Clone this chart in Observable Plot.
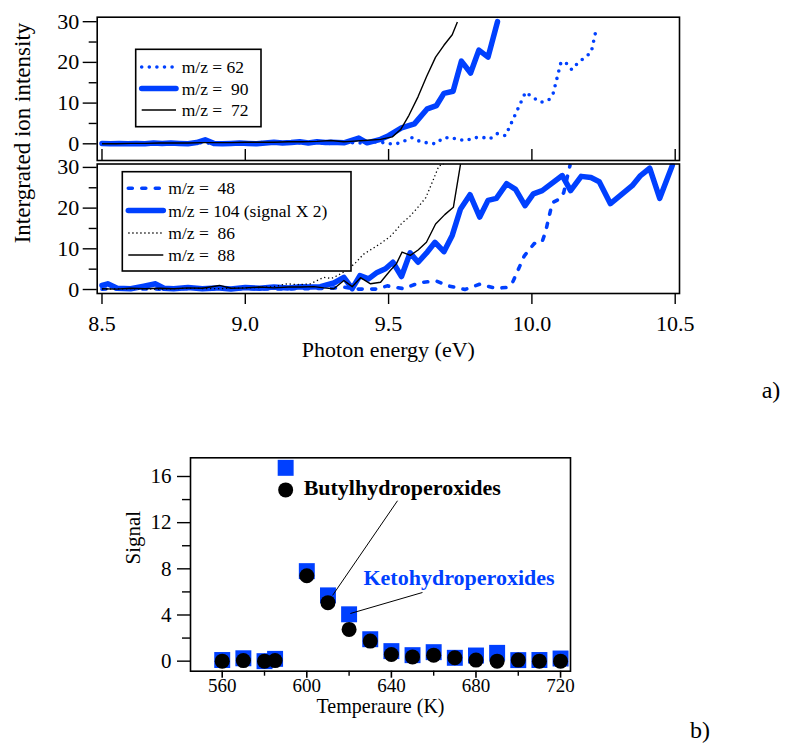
<!DOCTYPE html>
<html><head><meta charset="utf-8">
<script src="https://cdn.jsdelivr.net/npm/d3@7"></script>
<script src="https://cdn.jsdelivr.net/npm/@observablehq/plot@0.6"></script>
<style>
body{margin:0;background:#fff;}
#root{position:relative;width:789px;height:749px;font-family:"Liberation Serif","Times New Roman",serif;color:#000;overflow:hidden;}
.lab{position:absolute;white-space:nowrap;line-height:1;}
</style></head><body><div id="root"></div>
<script>
// ---------- DATA: panel a), upper frame ----------
const top62E = [8.50,8.55,8.60,8.65,8.70,8.75,8.80,8.85,8.90,8.95,9.00,9.05,9.10,9.15,9.20,9.25,9.30,9.35,9.40,9.44,9.472,9.501,9.528,9.553,9.582,9.609,9.637,9.664,9.690,9.716,9.745,9.772,9.797,9.827,9.853,9.879,9.908,9.978,10.005,10.032,10.059,10.074,10.101,10.115,10.139,10.162,10.187,10.207,10.225];
const top62V = [0.1,0.0,0.2,0.1,0.0,0.2,0.1,0.3,0.0,0.2,0.1,0.3,0.2,0.1,0.3,0.2,0.1,0.3,0.2,0.5,0.4,0.0,0.0,0.65,1.5,0.6,0.2,0.0,1.4,1.6,1.0,0.8,1.5,1.6,1.2,2.5,2.0,12.7,11.3,10.2,10.8,12.3,19.9,20.2,18.2,20.0,21.3,22.5,28.3];
const top90E = [8.50,8.53,8.56,8.59,8.62,8.65,8.68,8.71,8.74,8.77,8.80,8.83,8.86,8.89,8.92,8.95,8.98,9.01,9.04,9.07,9.10,9.13,9.16,9.19,9.22,9.25,9.28,9.30,9.344,9.396,9.425,9.472,9.50,9.545,9.59,9.635,9.667,9.693,9.725,9.754,9.786,9.815,9.847,9.880];
const top90V = [0.1,0.0,0.1,0.0,0.1,0.0,0.2,0.1,0.2,0.1,0.0,0.3,1.0,0.1,0.0,0.1,0.2,0.1,0.0,0.2,0.4,0.2,0.3,0.5,0.2,0.5,0.3,0.4,0.25,1.4,0.25,1.1,2.0,3.9,4.9,8.6,9.4,12.4,12.9,20.3,17.4,23.0,21.3,30.0];
const top72E = [8.50,8.55,8.60,8.65,8.70,8.75,8.80,8.85,8.90,8.95,9.00,9.05,9.10,9.15,9.20,9.25,9.298,9.344,9.367,9.414,9.472,9.513,9.542,9.571,9.603,9.633,9.664,9.693,9.722,9.740];
const top72V = [0.0,0.0,0.1,0.1,0.2,0.2,0.2,0.3,0.3,0.3,0.4,0.4,0.4,0.5,0.5,0.6,0.8,0.5,0.6,0.8,1.1,1.7,3.5,7.0,11.6,16.6,21.3,24.2,26.8,29.9];

// ---------- DATA: panel a), lower frame ----------
const bot48E = [8.50,8.60,8.70,8.80,8.90,9.00,9.10,9.20,9.30,9.344,9.38,9.46,9.495,9.553,9.608,9.666,9.708,9.766,9.818,9.873,9.912,9.931,9.95,9.973,10.008,10.035,10.047,10.059,10.071,10.10,10.111,10.133];
const bot48V = [0.1,0.2,0.1,0.2,0.1,0.2,0.1,0.2,0.3,0.6,0.1,0.1,0.9,0.2,1.7,2.1,0.9,0.0,1.3,0.3,0.5,1.5,4.5,8.2,11.3,11.6,14.0,17.6,21.3,22.4,23.8,30.5];
const bot104E = [8.50,8.52,8.553,8.60,8.646,8.687,8.716,8.75,8.80,8.85,8.90,8.95,9.00,9.05,9.10,9.15,9.194,9.227,9.262,9.309,9.344,9.373,9.40,9.43,9.46,9.489,9.515,9.545,9.575,9.603,9.635,9.662,9.693,9.722,9.751,9.784,9.818,9.847,9.876,9.912,9.943,9.976,10.005,10.036,10.106,10.135,10.172,10.206,10.235,10.274,10.35,10.379,10.411,10.446,10.49];
const bot104V = [1.0,1.4,0.3,0.2,0.8,1.4,0.3,0.2,0.5,0.2,0.4,0.1,0.5,0.3,0.6,0.4,0.7,0.6,0.7,1.6,3.0,0.2,3.4,2.6,4.2,5.1,6.7,3.2,9.0,6.7,9.2,11.6,9.3,13.3,19.8,23.3,17.8,21.9,22.4,26.0,24.6,20.6,23.5,24.3,28.0,24.3,27.8,27.5,26.5,21.1,25.5,28.0,29.8,22.4,30.5];
const bot86E = [8.50,8.60,8.70,8.80,8.90,9.00,9.05,9.10,9.146,9.181,9.227,9.274,9.30,9.321,9.356,9.385,9.413,9.443,9.472,9.505,9.525,9.545,9.573,9.60,9.63,9.655,9.675,9.693];
const bot86V = [0.1,0.2,0.1,0.3,0.2,0.4,0.5,0.7,1.4,1.2,1.4,3.0,2.7,3.4,4.8,6.6,8.7,10.0,11.3,13.0,14.5,16.2,17.9,20.0,22.6,26.8,30.3,30.9];
const bot88E = [8.50,8.55,8.60,8.65,8.70,8.75,8.80,8.85,8.91,8.95,9.00,9.05,9.10,9.15,9.194,9.239,9.274,9.309,9.344,9.373,9.402,9.437,9.472,9.505,9.527,9.547,9.576,9.603,9.632,9.664,9.696,9.726,9.751];
const bot88V = [0.2,0.1,0.3,0.2,0.3,0.2,0.4,0.3,1.0,0.3,0.4,0.6,0.4,0.6,0.6,0.7,0.4,0.2,2.2,0.7,2.9,1.4,1.8,4.6,6.3,9.2,8.4,9.7,11.6,16.1,18.4,20.2,30.8];

const energyTicks = [8.5, 9.0, 9.5, 10.0, 10.5];
const intensityTicks = [0, 10, 20, 30];
const intensityMinor = [5, 15, 25];
const topLegend = ["m/z = 62", "m/z =  90", "m/z =  72"];
const botLegend = ["m/z =  48", "m/z = 104 (signal X 2)", "m/z =  86", "m/z =  88"];

// ---------- DATA: panel b) ----------
const temps = [560,570,580,585,590,600,610,620,630,640,650,660,670,680,690,700,710,720];
const keto  = [0.1,0.25,0.0,0.2,16.75,7.8,5.7,4.06,1.9,0.87,0.52,0.78,0.29,0.49,0.72,0.09,0.1,0.23];
const butyl = [0.0,0.05,0.0,0.05,14.84,7.4,5.07,2.75,1.74,0.58,0.37,0.52,0.29,0.09,0.0,0.09,0.0,0.0];
const tempTicks = [560, 600, 640, 680, 720];
const tempMinor = [580, 620, 660, 700];
const signalTicks = [0, 4, 8, 12, 16];
const signalMinor = [2, 6, 10, 14];
const annLabels = ["Butylhydroperoxides", "Ketohydroperoxides"];
const annTextT = [598.5, 626.8];
const annTextS = [15.05, 7.17];
const annFromT = [642.9, 654.7];
const annFromS = [13.9, 5.95];
const annToT = [612.2, 620.6];
const annToS = [5.7, 4.13];

// ---------- helpers ----------
const BLUE = "#0040ff";
const FONT = "'Liberation Serif','Times New Roman',serif";
const zipS = (E, V) => E.slice(0, Math.min(E.length, V.length)).map((e, i) => ({e, v: V[i]}));
const root = document.getElementById("root");
function place(el, top) { el.style.position = "absolute"; el.style.left = "0px"; el.style.top = top + "px"; root.appendChild(el); }
function label(text, x, y, size, rot) {
  const d = document.createElement("div");
  d.className = "lab"; d.textContent = text;
  d.style.left = x + "px"; d.style.top = y + "px"; d.style.fontSize = size + "px";
  d.style.transform = "translate(-50%,-50%)" + (rot ? " rotate(" + rot + "deg)" : "");
  root.appendChild(d);
}
function legend(svg, box, rows, styles, sx1, sx2, tx) {
  const g = d3.select(svg).append("g").attr("text-anchor", "start");
  g.append("rect").attr("x", box[0]).attr("y", box[1]).attr("width", box[2]).attr("height", box[3])
    .attr("fill", "white").attr("stroke", "black").attr("stroke-width", 1.6);
  rows.forEach((r, i) => {
    const s = styles[i];
    g.append("line").attr("x1", sx1).attr("x2", sx2).attr("y1", r.y).attr("y2", r.y)
      .attr("stroke", s.stroke).attr("stroke-width", s.w).attr("stroke-dasharray", s.dash || null)
      .attr("stroke-linecap", s.cap || "butt");
    g.append("text").attr("x", tx).attr("y", r.y).attr("dy", "0.35em").attr("text-anchor", "start")
      .attr("font-family", FONT).attr("font-size", 17.5).attr("fill", "black")
      .style("white-space", "pre").text(r.text);
  });
}
const s62 = {stroke: BLUE, w: 3.6, dash: "0,7.6", cap: "round"};
const s90 = {stroke: BLUE, w: 5.5, cap: "round"};
const s72 = {stroke: "black", w: 1.4};
const s48 = {stroke: BLUE, w: 3.6, dash: "4,9.5", cap: "round"};
const s86 = {stroke: "black", w: 1.3, dash: "1.3,2.7"};
const lineMark = (data, s) => Plot.line(data, {x: "e", y: "v", stroke: s.stroke, strokeWidth: s.w,
  strokeDasharray: s.dash, strokeLinecap: s.cap || "butt", strokeLinejoin: "round", clip: true});
const baseStyle = {fontFamily: FONT, fontSize: "22px", background: "transparent", overflow: "visible", color: "black"};

// ---------- panel a) upper ----------
const topSvg = Plot.plot({
  width: 789, height: 162, marginLeft: 96.7, marginRight: 110, marginTop: 16.7, marginBottom: 2,
  style: baseStyle,
  x: {domain: [8.4833, 10.515]}, y: {domain: [-4.1, 31.1]},
  marks: [
    Plot.axisY({ticks: intensityTicks, tickSize: 14, tickPadding: 4, fontSize: 22, label: null, strokeWidth: 1.4}),
    Plot.axisY({ticks: intensityMinor, tickSize: 8, tickFormat: () => "", label: null, strokeWidth: 1.4}),
    Plot.axisX({ticks: energyTicks, tickSize: -11, tickFormat: () => "", label: null, strokeWidth: 1.4}),
    lineMark(zipS(top62E, top62V), s62),
    lineMark(zipS(top90E, top90V), s90),
    lineMark(zipS(top72E, top72V), s72),
    Plot.frame({stroke: "black", strokeWidth: 1.6})
  ]
});
legend(topSvg, [135.7, 49.3, 125.3, 77.4],
  topLegend.map((t, i) => ({text: t, y: [67, 88.5, 110][i]})), [s62, s90, s72], 141.7, 176, 181.7);
place(topSvg, 0);

// ---------- panel a) lower ----------
const botSvg = Plot.plot({
  width: 789, height: 238, marginLeft: 96.7, marginRight: 110, marginTop: 1.5, marginBottom: 107,
  style: baseStyle,
  x: {domain: [8.4833, 10.515]}, y: {domain: [-0.98, 30.84]},
  marks: [
    Plot.axisY({ticks: intensityTicks, tickSize: 14, tickPadding: 4, fontSize: 22, label: null, strokeWidth: 1.4}),
    Plot.axisY({ticks: intensityMinor, tickSize: 8, tickFormat: () => "", label: null, strokeWidth: 1.4}),
    Plot.axisX({ticks: energyTicks, tickSize: 11, tickPadding: 11, tickFormat: d3.format(".1f"), fontSize: 22, label: null, strokeWidth: 1.4}),
    lineMark(zipS(bot48E, bot48V), s48),
    lineMark(zipS(bot104E, bot104V), s90),
    lineMark(zipS(bot86E, bot86V), s86),
    lineMark(zipS(bot88E, bot88V), s72),
    Plot.frame({stroke: "black", strokeWidth: 1.6}),
    Plot.text(["Photon energy (eV)"], {text: d => d, frameAnchor: "bottom", dy: 63, fontSize: 22})
  ]
});
legend(botSvg, [122.3, 171.7 - 162, 228.7, 99.3],
  botLegend.map((t, i) => ({text: t, y: [188.3, 210.5, 233, 255][i] - 162})), [s48, s90, s86, s72], 128.3, 163.3, 168.3);
place(botSvg, 162);

label("Intergrated ion intensity", 22, 133, 23, -90);
label("a)", 771, 390, 24);

// ---------- panel b) ----------
const bData = temps.map((t, i) => ({t, keto: keto[i], butyl: butyl[i]}));
const ann = annLabels.map((l, i) => ({l, tx: annTextT[i], ty: annTextS[i], x1: annFromT[i], y1: annFromS[i], x2: annToT[i], y2: annToS[i]}));
const bSvg = Plot.plot({
  width: 789, height: 349, marginLeft: 190, marginRight: 219, marginTop: 57.3, marginBottom: 78.3,
  style: baseStyle,
  x: {domain: [545.0, 724.7]}, y: {domain: [-0.87, 17.62]},
  marks: [
    Plot.axisY({ticks: signalTicks, tickSize: 13, tickPadding: 6, fontSize: 21, label: null, strokeWidth: 1.4}),
    Plot.axisY({ticks: signalMinor, tickSize: 8, tickFormat: () => "", label: null, strokeWidth: 1.4}),
    Plot.axisX({ticks: tempTicks, tickSize: 7, tickPadding: 0, fontSize: 19, label: null, strokeWidth: 1.6}),
    Plot.axisX({ticks: tempMinor, tickSize: 5, tickFormat: () => "", label: null, strokeWidth: 1.4}),
    Plot.dot(bData, {x: "t", y: "keto", symbol: "square", r: 9, fill: BLUE}),
    Plot.dot(bData, {x: "t", y: "butyl", r: 7.5, fill: "black"}),
    Plot.link(ann, {x1: "x1", y1: "y1", x2: "x2", y2: "y2", stroke: "black", strokeWidth: 1}),
    Plot.text(ann, {x: "tx", y: "ty", text: "l", textAnchor: "start", fontWeight: "bold", fontSize: 22,
      fill: (d, i) => i === 0 ? "black" : BLUE}),
    Plot.frame({stroke: "black", strokeWidth: 1.6}),
    Plot.text(["Temperaure (K)"], {text: d => d, frameAnchor: "bottom", dy: 42, fontSize: 20}),
    Plot.text(["Signal"], {text: d => d, frameAnchor: "left", dx: -57, rotate: -90, fontSize: 21})
  ]
});
place(bSvg, 400);
label("b)", 700, 730, 24);
</script>
</body></html>
